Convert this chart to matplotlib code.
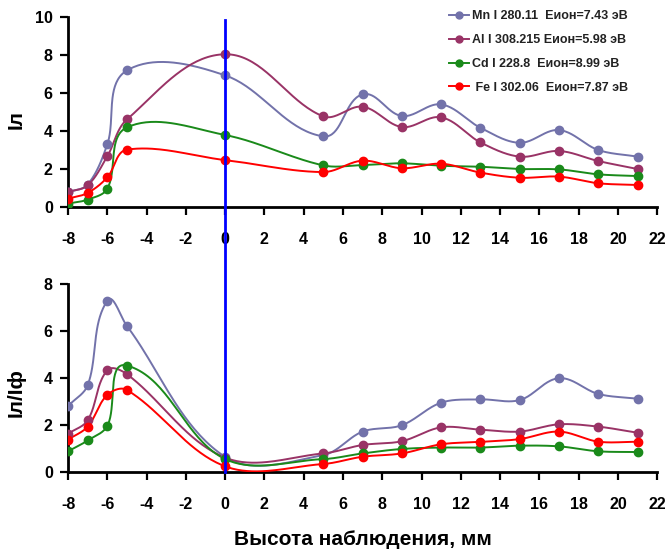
import numpy as np
import matplotlib.pyplot as plt

plt.rcParams['font.family'] = ['Liberation Sans', 'DejaVu Sans']
plt.rcParams['axes.unicode_minus'] = False

# высота наблюдения, мм
x = [-8, -7, -6, -5, 0, 5, 7, 9, 11, 13, 15, 17, 19, 21]

# Iл (верхний график)
mn_il = [0.78, 1.18, 3.3, 7.19, 6.93, 3.72, 5.93, 4.79, 5.4, 4.17, 3.38, 4.05, 3.0, 2.65]
al_il = [0.79, 1.14, 2.67, 4.61, 8.04, 4.77, 5.28, 4.21, 4.72, 3.4, 2.65, 2.95, 2.42, 2.0]
cd_il = [0.18, 0.39, 0.96, 4.19, 3.79, 2.19, 2.21, 2.3, 2.17, 2.12, 2.0, 1.98, 1.72, 1.63]
fe_il = [0.44, 0.74, 1.56, 3.02, 2.47, 1.84, 2.44, 2.04, 2.28, 1.81, 1.54, 1.6, 1.25, 1.16]

# Iл/Iф (нижний график)
mn_r = [2.81, 3.69, 7.29, 6.21, 0.64, 0.72, 1.72, 1.99, 2.95, 3.09, 3.06, 3.99, 3.32, 3.12]
al_r = [1.63, 2.2, 4.33, 4.16, 0.61, 0.79, 1.15, 1.31, 1.9, 1.8, 1.72, 2.03, 1.93, 1.67]
cd_r = [0.88, 1.34, 1.96, 4.53, 0.55, 0.55, 0.79, 0.98, 1.04, 1.04, 1.12, 1.09, 0.88, 0.85]
fe_r = [1.38, 1.93, 3.28, 3.49, 0.24, 0.34, 0.65, 0.79, 1.18, 1.28, 1.4, 1.72, 1.29, 1.29]

labels = ['Mn I 280.11  Еион=7.43 эВ', 'Al I 308.215 Еион=5.98 эВ',
          'Cd I 228.8  Еион=8.99 эВ', ' Fe I 302.06  Еион=7.87 эВ']
colors = ['#7272AA', '#993366', '#1A8A1A', '#FF0000']


def smooth(xs, ys, sx, sy, n=40):
    # сглаженная линия: кривые Безье, касательная по соседним точкам,
    # длина управляющих отрезков ~ 1/3 хорды (в пикселях)
    p = np.column_stack([np.array(xs) * sx, np.array(ys) * sy]).astype(float)
    m = len(p)
    tang = np.zeros_like(p)
    for i in range(m):
        a = p[max(i - 1, 0)]
        b = p[min(i + 1, m - 1)]
        d = b - a
        tang[i] = d / np.hypot(*d)
    out = []
    t = np.linspace(0, 1, n)[:, None]
    for i in range(m - 1):
        p0, p3 = p[i], p[i + 1]
        ch = np.hypot(*(p3 - p0)) / 3
        p1 = p0 + tang[i] * ch
        p2 = p3 - tang[i + 1] * ch
        seg = ((1 - t) ** 3) * p0 + 3 * ((1 - t) ** 2) * t * p1 + 3 * (1 - t) * t ** 2 * p2 + t ** 3 * p3
        out.append(seg)
    out = np.vstack(out)
    return out[:, 0] / sx, out[:, 1] / sy


fig = plt.figure(figsize=(6.65, 5.51), dpi=100)
ax1 = fig.add_axes([0.1023, 0.6243, 0.886, 0.3448])
ax2 = fig.add_axes([0.1023, 0.1434, 0.886, 0.3412])

for ax, series, ysc in [(ax1, [mn_il, al_il, cd_il, fe_il], 19.0),
                        (ax2, [mn_r, al_r, cd_r, fe_r], 23.5)]:
    for ys, c, lab in zip(series, colors, labels):
        lx, ly = smooth(x, ys, 19.6, ysc)
        ax.plot(lx, ly, color=c, lw=1.4, zorder=3)
        ax.plot(x, ys, 'o', color=c, ms=6, zorder=4)
        ax.plot([], [], '-o', color=c, lw=1.4, ms=5, label=lab)
    ax.set_xlim(-8, 22)
    ax.set_xticks(range(-8, 23, 2))
    for s in ['top', 'right']:
        ax.spines[s].set_visible(False)
    for s in ['left', 'bottom']:
        ax.spines[s].set_linewidth(2)
    ax.tick_params(direction='out', length=6, width=1.6, labelsize=11.5)
    ax.tick_params(axis='x', pad=12)
    ax.tick_params(axis='y', pad=5)

ax1.set_ylim(0, 10)
ax1.set_yticks(range(0, 11, 2))
ax2.set_ylim(0, 8)
ax2.set_yticks(range(0, 9, 2))
for ax in (ax1, ax2):
    for lbl in ax.get_xticklabels() + ax.get_yticklabels():
        lbl.set_fontweight('bold')

ax1.axvline(0, ymin=0, ymax=0.985, color='#0000FF', lw=2, zorder=5)
ax2.axvline(0, ymin=0, ymax=1.41, color='#0000FF', lw=2, zorder=5, clip_on=False)

ax1.set_ylabel('Iл', fontsize=15, fontweight='bold')
ax1.yaxis.set_label_coords(-0.072, 0.46)
ax2.set_ylabel('Iл/Iф', fontsize=15, fontweight='bold')
ax2.yaxis.set_label_coords(-0.072, 0.42)
ax2.set_xlabel('Высота наблюдения, мм', fontsize=15, fontweight='bold', labelpad=13)

leg = ax1.legend(loc='upper left', bbox_to_anchor=(0.627, 1.095), frameon=False,
                 prop={'size': 9, 'weight': 'bold'}, handlelength=1.6,
                 labelspacing=0.95, handletextpad=0.3)
for txt in leg.get_texts():
    txt.set_color('#222222')

fig.savefig('out.png', dpi=100)
